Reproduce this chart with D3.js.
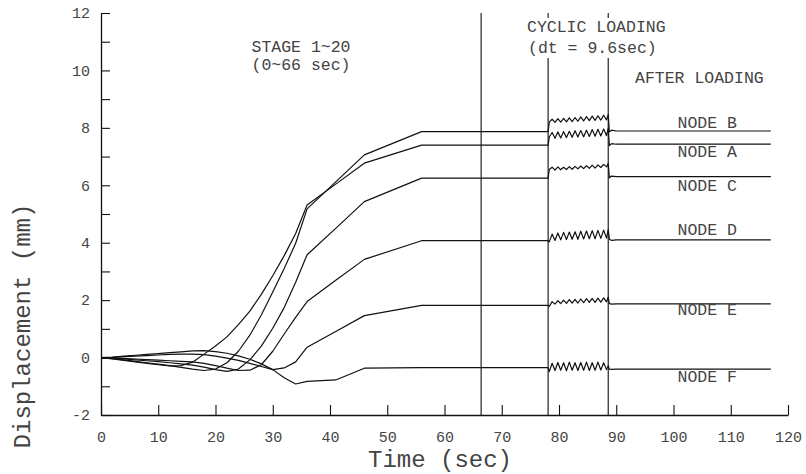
<!DOCTYPE html>
<html>
<head>
<meta charset="utf-8">
<script src="https://cdn.jsdelivr.net/npm/d3@7"></script>
<style>
  body { margin: 0; background: #fff; }
  text { font-family: "Courier New", "Liberation Mono", monospace; fill: #444; }
</style>
</head>
<body>
<script>
"use strict";
var width = 806, height = 474;

// stage loading part (0 ~ 56 sec, then flat)
var stageTime = [0, 2, 4, 6, 8, 10, 12, 14, 16, 18, 20, 22, 24, 26, 28, 30, 32, 34, 36, 41, 46, 56];
var stageA = [0, -0.05, -0.10, -0.15, -0.20, -0.25, -0.29, -0.28, -0.16, 0.12, 0.40, 0.72, 1.15, 1.62, 2.20, 2.85, 3.55, 4.32, 5.31, 6.04, 6.77, 7.40];
var stageB = [0, -0.04, -0.08, -0.13, -0.18, -0.23, -0.28, -0.34, -0.40, -0.45, -0.40, -0.18, 0.22, 0.78, 1.48, 2.28, 3.10, 3.98, 5.18, 6.12, 7.06, 7.87];
var stageC = [0, -0.02, -0.05, -0.08, -0.11, -0.14, -0.18, -0.22, -0.26, -0.33, -0.42, -0.48, -0.40, -0.08, 0.40, 1.02, 1.74, 2.62, 3.58, 4.50, 5.43, 6.25];
var stageD = [0, -0.01, -0.03, -0.05, -0.07, -0.09, -0.11, -0.13, -0.15, -0.20, -0.28, -0.37, -0.45, -0.44, -0.25, 0.22, 0.82, 1.40, 1.95, 2.69, 3.42, 4.07];
var stageE = [0, 0.01, 0.03, 0.05, 0.07, 0.09, 0.11, 0.12, 0.12, 0.10, 0.05, -0.02, -0.10, -0.20, -0.31, -0.42, -0.36, -0.15, 0.36, 0.91, 1.46, 1.82];
var stageF = [0, 0.02, 0.05, 0.08, 0.11, 0.14, 0.17, 0.20, 0.23, 0.24, 0.21, 0.15, 0.06, -0.06, -0.22, -0.42, -0.70, -0.92, -0.83, -0.78, -0.37, -0.35];

// cyclic loading part
var cycTime = [78.1, 78.3, 78.8, 79.3, 79.8, 80.3, 80.8, 81.3, 81.8, 82.3, 82.8, 83.3, 83.8, 84.3, 84.8, 85.3, 85.8, 86.3, 86.8, 87.3, 87.8, 88.3, 88.6];
var cycA = [7.40, 7.68, 7.84, 7.64, 7.86, 7.65, 7.87, 7.66, 7.88, 7.67, 7.90, 7.68, 7.91, 7.69, 7.92, 7.70, 7.94, 7.71, 7.95, 7.72, 7.96, 7.73, 7.98];
var cycB = [7.87, 8.20, 8.30, 8.19, 8.32, 8.20, 8.33, 8.21, 8.35, 8.22, 8.36, 8.23, 8.38, 8.24, 8.39, 8.25, 8.41, 8.26, 8.42, 8.27, 8.44, 8.28, 8.46];
var cycC = [6.25, 6.55, 6.63, 6.53, 6.64, 6.54, 6.63, 6.55, 6.65, 6.56, 6.66, 6.57, 6.67, 6.58, 6.68, 6.59, 6.70, 6.60, 6.71, 6.62, 6.73, 6.64, 6.77];
var cycD = [4.07, 4.03, 4.30, 4.08, 4.34, 4.10, 4.36, 4.11, 4.37, 4.12, 4.38, 4.12, 4.40, 4.13, 4.41, 4.14, 4.42, 4.14, 4.43, 4.15, 4.44, 4.16, 4.46];
var cycE = [1.82, 1.78, 1.95, 1.86, 1.98, 1.88, 2.00, 1.89, 2.02, 1.90, 2.03, 1.90, 2.04, 1.91, 2.05, 1.92, 2.06, 1.92, 2.07, 1.93, 2.08, 1.94, 2.10];
var cycF = [-0.35, -0.49, -0.20, -0.45, -0.17, -0.44, -0.18, -0.46, -0.16, -0.44, -0.18, -0.45, -0.17, -0.44, -0.16, -0.45, -0.18, -0.44, -0.16, -0.43, -0.18, -0.42, -0.28];

// after loading
var afterTime = [88.8, 89.2, 90.0, 117];
var afterA = [7.38, 7.45, 7.43, 7.43];
var afterB = [7.86, 7.92, 7.89, 7.89];
var afterC = [6.26, 6.32, 6.30, 6.30];
var afterD = [4.12, 4.08, 4.10, 4.10];
var afterE = [1.88, 1.86, 1.87, 1.87];
var afterF = [-0.40, -0.41, -0.40, -0.40];

var nodeNames = ["NODE A", "NODE B", "NODE C", "NODE D", "NODE E", "NODE F"];
var stageVals = [stageA, stageB, stageC, stageD, stageE, stageF];
var cycVals = [cycA, cycB, cycC, cycD, cycE, cycF];
var afterVals = [afterA, afterB, afterC, afterD, afterE, afterF];

// phase boundaries (sec), as drawn
var phaseLines = [66.4, 78.1, 88.6];

var xTicks = [0, 10, 20, 30, 40, 50, 60, 70, 80, 90, 100, 110, 120];
var yTicks = [-2, -1, 0, 1, 2, 3, 4, 5, 6, 7, 8, 9, 10, 11, 12];

// label offsets from the final line (px), node label column at t=100.7
var labelDy = [12.5, -3.5, 14, -5, 11, 12.5];

var x = d3.scaleLinear().domain([0, 120]).range([101, 788]);
var y = d3.scaleLinear().domain([-2, 12]).range([415, 13]);

var svg = d3.select("body").append("svg")
	.attr("width", width)
	.attr("height", height);

// build the node series
function buildSeries(i) {
	var pts = [];
	stageTime.forEach(function(t, j) { pts.push([t, stageVals[i][j]]); });
	cycTime.forEach(function(t, j) { pts.push([t, cycVals[i][j]]); });
	afterTime.forEach(function(t, j) { pts.push([t, afterVals[i][j]]); });
	return pts;
}
var series = nodeNames.map(function(n, i) { return {name: n, pts: buildSeries(i)}; });

// vertical phase lines
svg.selectAll("line.phase")
	.data(phaseLines)
	.enter().append("line")
	.attr("class", "phase")
	.attr("x1", function(d) { return x(d); })
	.attr("x2", function(d) { return x(d); })
	.attr("y1", y(12))
	.attr("y2", y(-2))
	.attr("stroke", "#222")
	.attr("stroke-width", 1.2);

// curves
var line = d3.line()
	.x(function(d) { return x(d[0]); })
	.y(function(d) { return y(d[1]); });

svg.selectAll("path.node")
	.data(series)
	.enter().append("path")
	.attr("class", "node")
	.attr("d", function(d) { return line(d.pts); })
	.attr("fill", "none")
	.attr("stroke", "#111")
	.attr("stroke-width", 1.2)
	.attr("stroke-linejoin", "round");

// axes
var yAxis = d3.axisLeft(y)
	.tickValues(yTicks)
	.tickSizeInner(-9)
	.tickSizeOuter(0)
	.tickPadding(11)
	.tickFormat(function(d) { return d % 2 === 0 ? d : ""; });
var xAxis = d3.axisBottom(x)
	.tickValues(xTicks)
	.tickSizeInner(-10)
	.tickSizeOuter(0)
	.tickPadding(16)
	.tickFormat(function(d) { return d; });

var gy = svg.append("g").attr("transform", "translate(" + x(0) + ",0)").call(yAxis);
var gx = svg.append("g").attr("transform", "translate(0," + y(-2) + ")").call(xAxis);
[gx, gy].forEach(function(g) {
	g.select(".domain").attr("stroke", "#111").attr("stroke-width", 1.3);
	g.selectAll(".tick line").attr("stroke", "#111").attr("stroke-width", 1.1);
	g.selectAll(".tick text")
		.style("font-family", "'Courier New', 'Liberation Mono', monospace")
		.style("font-size", "15px")
		.attr("fill", "#444");
});

// axis titles
svg.append("text")
	.attr("x", 440)
	.attr("y", 467)
	.attr("text-anchor", "middle")
	.style("font-size", "24px")
	.text("Time (sec)");
svg.append("text")
	.attr("transform", "translate(30,326) rotate(-90)")
	.attr("text-anchor", "middle")
	.style("font-size", "24px")
	.text("Displacement (mm)");

// annotations
var annSize = "16.5px";
svg.append("text").attr("x", 301).attr("y", 52).attr("text-anchor", "middle")
	.style("font-size", annSize).text("STAGE 1~20");
svg.append("text").attr("x", 301).attr("y", 70).attr("text-anchor", "middle")
	.style("font-size", annSize).text("(0~66 sec)");

svg.append("rect").attr("x", 524).attr("y", 18).attr("width", 146).attr("height", 40).attr("fill", "#fff");
svg.append("text").attr("x", 527).attr("y", 32)
	.style("font-size", annSize).text("CYCLIC LOADING");
svg.append("text").attr("x", 528).attr("y", 53)
	.style("font-size", annSize).text("(dt = 9.6sec)");
svg.append("text").attr("x", 635).attr("y", 83)
	.style("font-size", annSize).text("AFTER LOADING");

// node labels
svg.selectAll("text.nodeLabel")
	.data(series)
	.enter().append("text")
	.attr("class", "nodeLabel")
	.attr("x", x(100.7))
	.attr("y", function(d, i) { return y(d.pts[d.pts.length - 1][1]) + labelDy[i]; })
	.style("font-size", annSize)
	.text(function(d) { return d.name; });
</script>
</body>
</html>
